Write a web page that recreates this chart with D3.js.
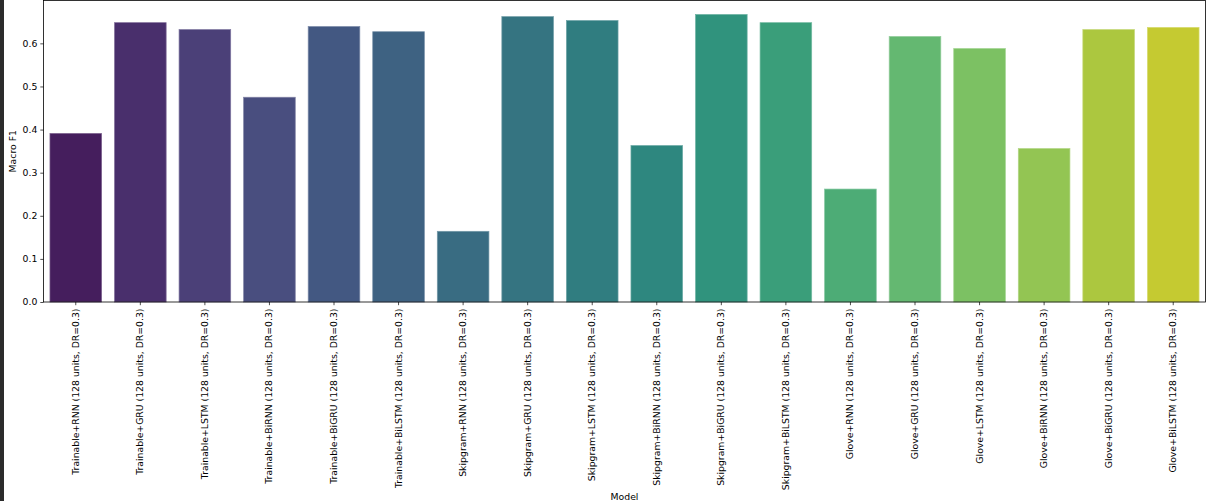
<!DOCTYPE html>
<html>
<head>
<meta charset="utf-8">
<script src="https://cdn.jsdelivr.net/npm/d3@7"></script>
<style>
  html, body { margin: 0; padding: 0; background: #fff; }
  svg { display: block; }
  text { font-family: "DejaVu Sans", sans-serif; fill: #000; }
</style>
</head>
<body>
<div id="chart"></div>
<script>
const categories = [
  "Trainable+RNN (128 units, DR=0.3)",
  "Trainable+GRU (128 units, DR=0.3)",
  "Trainable+LSTM (128 units, DR=0.3)",
  "Trainable+BiRNN (128 units, DR=0.3)",
  "Trainable+BiGRU (128 units, DR=0.3)",
  "Trainable+BiLSTM (128 units, DR=0.3)",
  "Skipgram+RNN (128 units, DR=0.3)",
  "Skipgram+GRU (128 units, DR=0.3)",
  "Skipgram+LSTM (128 units, DR=0.3)",
  "Skipgram+BiRNN (128 units, DR=0.3)",
  "Skipgram+BiGRU (128 units, DR=0.3)",
  "Skipgram+BiLSTM (128 units, DR=0.3)",
  "Glove+RNN (128 units, DR=0.3)",
  "Glove+GRU (128 units, DR=0.3)",
  "Glove+LSTM (128 units, DR=0.3)",
  "Glove+BiRNN (128 units, DR=0.3)",
  "Glove+BiGRU (128 units, DR=0.3)",
  "Glove+BiLSTM (128 units, DR=0.3)"
];
const macroF1 = [0.391, 0.648, 0.632, 0.475, 0.639, 0.627,
                 0.164, 0.662, 0.653, 0.363, 0.667, 0.648,
                 0.262, 0.616, 0.588, 0.356, 0.632, 0.637];
const yTicks = [0.0, 0.1, 0.2, 0.3, 0.4, 0.5, 0.6];
const xTitle = "Model";
const yTitle = "Macro F1";

const W = 1209, H = 501;
const plot = { left: 43.5, right: 1205.5, top: 0.5, bottom: 302 };
const fontSize = 9.3;

const svg = d3.select("#chart").append("svg").attr("width", W).attr("height", H);
svg.append("rect").attr("width", W).attr("height", H).attr("fill", "#fff");
// dark notebook strip on left edge
svg.append("rect").attr("x", 0).attr("y", 0).attr("width", 4).attr("height", H).attr("fill", "#2b2b2b");

const x = d3.scaleBand().domain(categories).range([plot.left, plot.right]).paddingInner(0.2).paddingOuter(0.1);
const y = d3.scaleLinear().domain([0, 0.6994]).range([plot.bottom, plot.top]);

function colorFor(i) {
  const c = d3.hsl(d3.interpolateViridis((i + 1) / (categories.length + 1)));
  c.s *= 0.75;
  return c.formatHex();
}

svg.append("g").selectAll("rect").data(macroF1).join("rect")
  .attr("x", (d, i) => x(categories[i]))
  .attr("width", x.bandwidth())
  .attr("y", d => y(d))
  .attr("height", d => y(0) - y(d))
  .attr("fill", (d, i) => colorFor(i))
  .attr("stroke", (d, i) => d3.interpolateRgb(colorFor(i), "#fff")(0.3))
  .attr("stroke-width", 0.7);

// axes
const yAxis = d3.axisLeft(y).tickValues(yTicks).tickFormat(d3.format(".1f")).tickSize(3.2).tickPadding(3);
const gy = svg.append("g").attr("transform", `translate(${plot.left},0)`).call(yAxis);
gy.select(".domain").remove();
gy.selectAll("line").attr("stroke", "#000").attr("stroke-width", 0.7);
gy.selectAll("text").attr("font-size", fontSize).attr("font-family", "DejaVu Sans").attr("fill", "#1a1a1a");

const xAxis = d3.axisBottom(x).tickSize(3.2).tickPadding(3);
const gx = svg.append("g").attr("transform", `translate(0,${plot.bottom})`).call(xAxis);
gx.select(".domain").remove();
gx.selectAll("line").attr("stroke", "#000").attr("stroke-width", 0.7);
gx.selectAll("text")
  .attr("font-size", fontSize).attr("font-family", "DejaVu Sans").attr("fill", "#1a1a1a")
  .attr("transform", "rotate(-90)")
  .attr("text-anchor", "end")
  .attr("x", -6.5).attr("y", 0).attr("dy", "0.32em");

// spines
const sp = svg.append("g").attr("stroke", "#000").attr("stroke-width", 0.8).attr("fill", "none");
sp.append("rect").attr("x", plot.left).attr("y", plot.top).attr("width", plot.right - plot.left).attr("height", plot.bottom - plot.top);

// titles
svg.append("text").attr("x", (plot.left + plot.right) / 2).attr("y", 500).attr("text-anchor", "middle")
  .attr("font-size", fontSize).attr("fill", "#1a1a1a").text(xTitle);
svg.append("text").attr("transform", `translate(15.5,${(plot.top + plot.bottom) / 2}) rotate(-90)`)
  .attr("text-anchor", "middle").attr("font-size", fontSize).attr("fill", "#1a1a1a").text(yTitle);
</script>
</body>
</html>
